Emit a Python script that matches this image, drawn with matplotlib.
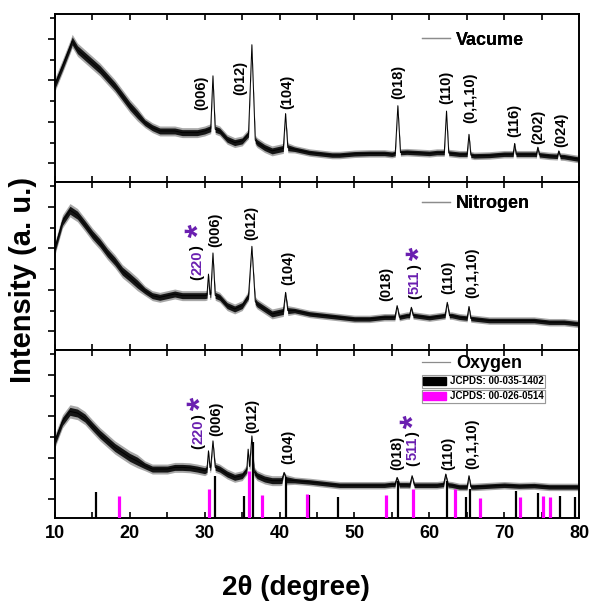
import numpy as np
import matplotlib
matplotlib.use("Agg")
import matplotlib.pyplot as plt
from matplotlib.lines import Line2D
from matplotlib.patches import Patch
from matplotlib.textpath import TextPath
from matplotlib.font_manager import FontProperties
from matplotlib.transforms import Affine2D

plt.rcParams["font.family"] = ["Liberation Sans", "DejaVu Sans"]
plt.rcParams["font.weight"] = "bold"

# ---------------------------------------------------------------- data
# Diffraction background (2theta, intensity, arbitrary units)
vac_tth = [10, 11, 12, 12.3, 13, 14, 15, 16, 17, 18, 19, 20, 21, 22, 23, 24, 25, 26,
           27, 28, 29, 30, 31, 32, 33, 34, 35, 36, 37, 38, 39, 40, 41, 42, 43, 44,
           45, 46, 47, 48, 50, 52, 54, 55, 56, 57, 58, 60, 61, 62, 63, 64, 65, 66,
           68, 70, 72, 74, 76, 78, 80]
vac_int = [1.90, 2.34, 2.80, 2.95, 2.74, 2.58, 2.42, 2.26, 2.06, 1.86, 1.62, 1.38,
           1.18, 0.98, 0.86, 0.78, 0.78, 0.78, 0.74, 0.74, 0.74, 0.78, 0.85, 0.78,
           0.58, 0.50, 0.54, 0.74, 0.50, 0.38, 0.30, 0.34, 0.38, 0.34, 0.30, 0.26,
           0.24, 0.22, 0.20, 0.20, 0.23, 0.24, 0.24, 0.22, 0.26, 0.27, 0.26, 0.24,
           0.26, 0.26, 0.24, 0.22, 0.22, 0.18, 0.19, 0.22, 0.22, 0.22, 0.18, 0.16,
           0.10]
vac_peak_pos = [31.1, 36.3, 40.8, 55.8, 62.3, 65.3, 71.4, 74.5, 77.3]
vac_peak_top = [2.11, 2.86, 1.20, 1.39, 1.26, 0.70, 0.48, 0.39, 0.30]
vac_peak_hw = [0.30, 0.45, 0.30, 0.35, 0.30, 0.25, 0.20, 0.20, 0.20]

nit_tth = [10, 11, 12, 13, 14, 15, 16, 17, 18, 19, 20, 21, 22, 23, 24, 25, 26, 27,
           28, 29, 30, 31, 32, 33, 34, 35, 36, 37, 38, 39, 40, 41, 42, 44, 46, 48,
           50, 52, 54, 55, 56, 57, 58, 60, 62, 63, 64, 66, 68, 70, 72, 74, 76, 78, 80]
nit_int = [2.01, 2.65, 2.92, 2.80, 2.57, 2.33, 2.13, 1.89, 1.69, 1.45, 1.30, 1.14,
           0.98, 0.86, 0.82, 0.86, 0.90, 0.86, 0.86, 0.86, 0.86, 0.90, 0.82, 0.62,
           0.54, 0.62, 0.90, 0.66, 0.54, 0.42, 0.46, 0.50, 0.50, 0.42, 0.38, 0.34,
           0.30, 0.30, 0.34, 0.34, 0.34, 0.38, 0.38, 0.33, 0.38, 0.38, 0.34, 0.30,
           0.26, 0.26, 0.26, 0.26, 0.22, 0.22, 0.18]
nit_peak_pos = [30.5, 31.1, 36.3, 40.8, 55.7, 57.6, 62.4, 65.3]
nit_peak_top = [1.38, 1.89, 2.05, 0.94, 0.62, 0.58, 0.70, 0.60]
nit_peak_hw = [0.20, 0.30, 0.45, 0.30, 0.30, 0.25, 0.30, 0.25]

oxy_tth = [10, 11, 12, 13, 14, 15, 16, 17, 18, 19, 20, 21, 22, 23, 24, 25, 26, 27,
           28, 29, 30, 31, 32, 33, 34, 35, 36, 37, 38, 39, 40, 41, 42, 44, 46, 48,
           50, 52, 54, 55, 56, 57, 58, 60, 61, 62, 63, 64, 66, 68, 70, 72, 74, 76,
           78, 80]
oxy_int = [1.41, 1.88, 2.12, 2.08, 1.96, 1.76, 1.57, 1.41, 1.25, 1.13, 1.01, 0.92,
           0.81, 0.73, 0.73, 0.73, 0.77, 0.77, 0.76, 0.73, 0.69, 0.80, 0.73, 0.61,
           0.53, 0.57, 0.80, 0.57, 0.49, 0.45, 0.45, 0.47, 0.45, 0.42, 0.38, 0.34,
           0.34, 0.34, 0.34, 0.36, 0.35, 0.35, 0.34, 0.34, 0.34, 0.36, 0.34, 0.30,
           0.30, 0.32, 0.34, 0.32, 0.33, 0.30, 0.30, 0.30]
oxy_peak_pos = [30.5, 31.1, 35.8, 36.3, 40.6, 55.7, 57.7, 62.2, 65.3]
oxy_peak_top = [1.17, 1.41, 1.21, 1.53, 0.65, 0.53, 0.57, 0.61, 0.57]
oxy_peak_hw = [0.20, 0.30, 0.18, 0.30, 0.30, 0.30, 0.30, 0.30, 0.25]

# Reference stick patterns (position, relative intensity)
ref_a_name = "JCPDS: 00-035-1402"
ref_a_pos = [15.5, 31.4, 35.2, 36.4, 40.8, 43.9, 47.8, 55.8, 62.4, 64.9, 65.4,
             71.6, 74.5, 77.4, 79.5]
ref_a_int = [0.62, 1.02, 0.52, 1.83, 1.00, 0.55, 0.50, 0.90, 0.90, 0.50, 0.70,
             0.65, 0.60, 0.52, 0.50]
ref_b_name = "JCPDS: 00-026-0514"
ref_b_pos = [18.6, 30.6, 35.9, 37.6, 43.6, 54.2, 57.8, 63.4, 66.8, 72.1, 75.2, 76.1]
ref_b_int = [0.52, 0.69, 1.14, 0.55, 0.59, 0.55, 0.71, 0.71, 0.48, 0.50, 0.52, 0.51]

sample_names = ["Vacume", "Nitrogen", "Oxygen"]

# Miller-index labels: (text, 2theta, height, second phase?)
vac_labels = [("(006)", 29.6, 1.70, False), ("(012)", 34.7, 2.05, False),
              ("(104)", 41.0, 1.73, False), ("(018)", 55.9, 1.97, False),
              ("(110)", 62.3, 1.82, False), ("(0,1,10)", 65.5, 1.58, False),
              ("(116)", 71.4, 1.04, False), ("(202)", 74.5, 0.89, False),
              ("(024)", 77.6, 0.82, False)]
nit_labels = [("(220)", 29.0, 1.65, True), ("(006)", 31.4, 2.45, False),
              ("(012)", 36.2, 2.62, False), ("(104)", 41.1, 1.53, False),
              ("(018)", 54.3, 1.15, False), ("(511)", 58.1, 1.19, True),
              ("(110)", 62.5, 1.29, False), ("(0,1,10)", 65.7, 1.41, False)]
oxy_labels = [("(220)", 29.2, 1.62, True), ("(006)", 31.6, 1.93, False),
              ("(012)", 36.3, 2.00, False), ("(104)", 41.2, 1.26, False),
              ("(018)", 55.7, 1.12, False), ("(511)", 57.8, 1.22, True),
              ("(110)", 62.6, 1.10, False), ("(0,1,10)", 65.7, 1.34, False)]
# second-phase markers (2theta, height)
nit_star_x, nit_star_y = [28.9, 58.4], [2.43, 1.86]
oxy_star_x, oxy_star_y = [29.1, 57.5], [2.31, 1.86]

x_ticks = [10, 20, 30, 40, 50, 60, 70, 80]

# ---------------------------------------------------------------- styling
PURPLE = "#6a1fb0"
MAGENTA = "#ff00ff"
Y_LO, Y_HI = -0.45, 3.6
LABEL_FS = 10.5


def build_pattern(tth, inten, pk_pos, pk_top, pk_hw):
    tth = np.asarray(tth, float)
    inten = np.asarray(inten, float)
    keep = np.ones(tth.size, bool)
    for p, w in zip(pk_pos, pk_hw):
        keep &= ~((tth > p - w) & (tth < p + w))
    xs = list(tth[keep])
    ys = list(inten[keep])
    tip = [False] * len(xs)
    for p, t, w in zip(pk_pos, pk_top, pk_hw):
        for xx in (p - w, p + w):
            xs.append(xx)
            ys.append(float(np.interp(xx, tth, inten)))
            tip.append(False)
        xs.append(p)
        ys.append(t)
        tip.append(True)
    order = np.argsort(xs)
    xs = np.asarray(xs)[order]
    ys = np.asarray(ys)[order]
    tip = np.asarray(tip)[order]
    spread = np.where(xs < 22, 0.16, np.where(xs < 42, 0.12, 0.09))
    spread[tip] = 0.02
    return xs, ys, spread


def draw_pattern(ax, tth, inten, pk_pos, pk_top, pk_hw):
    x, y, s = build_pattern(tth, inten, pk_pos, pk_top, pk_hw)
    ax.fill_between(x, y - s, y + s, color="#a8a8a8", lw=0, zorder=2)
    ax.fill_between(x, y - 0.6 * s, y + 0.6 * s, color="#161616", lw=0, zorder=2)
    ax.plot(x, y, color="black", lw=0.7, zorder=3)


def star_marker():
    tp = TextPath((0, 0), "*", prop=FontProperties(family="Liberation Sans",
                                                   weight="bold"))
    v = tp.vertices
    c = (v.min(axis=0) + v.max(axis=0)) / 2
    return tp.transformed(Affine2D().translate(-c[0], -c[1]).rotate_deg(90))


STAR = star_marker()


def draw_labels(ax, labels):
    kw = dict(rotation=90, rotation_mode="anchor", ha="center", va="center",
              fontsize=LABEL_FS, fontweight="bold", zorder=5,
              textcoords="offset points")
    for text, x, y, second in labels:
        if not second:
            ax.annotate(text, (x, y), xytext=(0, 0), color="black", **kw)
            continue
        digits = text.strip("()")
        # black brackets either side of the coloured index, reading upwards
        off = (len(digits) * 0.556 + 0.333) * LABEL_FS / 2
        ax.annotate(digits, (x, y), xytext=(0, 0), color=PURPLE, **kw)
        ax.annotate("(", (x, y), xytext=(0, -off), color="black", **kw)
        ax.annotate(")", (x, y), xytext=(0, off), color="black", **kw)


fig, axes = plt.subplots(3, 1, sharex=True, figsize=(5.9, 6.04), dpi=100)
fig.subplots_adjust(left=55 / 590, right=579 / 590, top=1 - 14 / 604,
                    bottom=1 - 518 / 604, hspace=0)

draw_pattern(axes[0], vac_tth, vac_int, vac_peak_pos, vac_peak_top, vac_peak_hw)
draw_pattern(axes[1], nit_tth, nit_int, nit_peak_pos, nit_peak_top, nit_peak_hw)
draw_pattern(axes[2], oxy_tth, oxy_int, oxy_peak_pos, oxy_peak_top, oxy_peak_hw)

draw_labels(axes[0], vac_labels)
draw_labels(axes[1], nit_labels)
draw_labels(axes[2], oxy_labels)

axes[1].plot(nit_star_x, nit_star_y, ls="none", marker=STAR, markersize=17,
             color=PURPLE, markeredgewidth=0, zorder=5)
axes[2].plot(oxy_star_x, oxy_star_y, ls="none", marker=STAR, markersize=17,
             color=PURPLE, markeredgewidth=0, zorder=5)

# reference patterns rise from the bottom of the lowest panel
axes[2].vlines(ref_a_pos, Y_LO, Y_LO + np.asarray(ref_a_int), color="black",
               lw=1.6, zorder=4)
axes[2].vlines(ref_b_pos, Y_LO, Y_LO + np.asarray(ref_b_int), color=MAGENTA,
               lw=2.3, zorder=4)

legend_y = [0.845, 0.87, 0.92]
for ax, name, ly in zip(axes, sample_names, legend_y):
    ax.set_xlim(10, 80)
    ax.set_ylim(Y_LO, Y_HI)
    ax.set_yticks([0, 1, 2, 3])
    ax.set_yticks([0.5, 1.5, 2.5, 3.5], minor=True)
    ax.set_xticks(x_ticks)
    ax.set_xticks([15, 25, 35, 45, 55, 65, 75], minor=True)
    ax.tick_params(axis="y", which="both", direction="out", left=True,
                   right=False, labelleft=False, width=1.2)
    ax.tick_params(axis="y", which="major", length=5)
    ax.tick_params(axis="y", which="minor", length=3.5)
    ax.tick_params(axis="x", which="both", direction="in", top=True,
                   bottom=True, length=4, width=1.2)
    for sp in ax.spines.values():
        sp.set_linewidth(1.4)
    leg = ax.legend([Line2D([], [], color="#8c8c8c", lw=0.9)], [name],
                    loc="center left", bbox_to_anchor=(0.70, ly), frameon=False,
                    prop=dict(size=13, weight="bold"), handlelength=1.55,
                    handletextpad=0.35, borderpad=0, borderaxespad=0)
    ax.add_artist(leg)

ax = axes[2]
for name, col, top in ((ref_a_name, "black", 0.851), (ref_b_name, MAGENTA, 0.762)):
    lg = ax.legend([Patch(facecolor=col, edgecolor=col)], [name],
                   loc="upper left", bbox_to_anchor=(0.70, top), frameon=True,
                   fancybox=False, edgecolor="#999999", framealpha=1,
                   prop=dict(size=7, weight="bold"), handlelength=2.3,
                   handleheight=0.9, borderpad=0.15, handletextpad=0.4,
                   borderaxespad=0)
    lg.get_frame().set_linewidth(0.8)
    ax.add_artist(lg)

ax.set_xticklabels([str(t) for t in x_ticks], fontsize=13, fontweight="bold")
ax.tick_params(axis="x", which="major", pad=5)

fig.text(296 / 590, 1 - 588 / 604, "2θ (degree)", ha="center", va="center",
         fontsize=20, fontweight="bold")
fig.text(23 / 590, 1 - 280 / 604, "Intensity (a. u.)", ha="center", va="center",
         rotation=90, fontsize=21, fontweight="bold")

fig.savefig("out.png", dpi=100)
